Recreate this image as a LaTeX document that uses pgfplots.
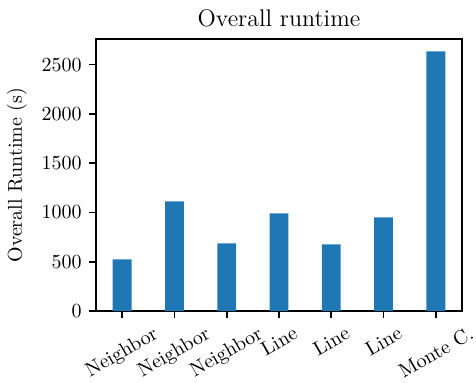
\documentclass[border=0pt]{standalone}
\usepackage{graphicx}
\usepackage{pgfplots}
\pgfplotsset{compat=1.18}
\definecolor{tabblue}{HTML}{1F77B4}
\begin{document}
\begin{tikzpicture}
\begin{axis}[
  scale only axis,
  width=183pt, height=136pt,
  xmin=-0.5, xmax=6.5,
  ymin=0, ymax=2760,
  axis line style={line width=0.8pt},
  tick style={line width=0.8pt, black},
  tick align=outside,
  major tick length=3.5pt,
  xtick={0,1,2,3,4,5,6},
  xticklabels={\rotatebox{30}{Neighbor},\rotatebox{30}{Neighbor},\rotatebox{30}{Neighbor},\rotatebox{30}{Line},\rotatebox{30}{Line},\rotatebox{30}{Line},\rotatebox{30}{Monte C.}},
  xticklabel style={anchor=north, inner sep=0pt, yshift=-3.5pt},
  ytick={0,500,1000,1500,2000,2500},
  yticklabel style={anchor=east, inner sep=0pt, xshift=-3.5pt},
  /pgf/number format/1000 sep={},
  xtick pos=bottom, ytick pos=left,
  ylabel={Overall Runtime (s)},
  ylabel style={at={(axis description cs:-0.216,0.5)}, anchor=center, inner sep=0pt},
  title={Overall runtime},
  title style={at={(axis description cs:0.5,1)}, anchor=base, inner sep=0pt, yshift=0.5pt, font=\fontsize{12}{14}\selectfont},
  clip=false,
]
\addplot[ybar, bar width=0.36, fill=tabblue, draw=none] coordinates {
  (0,524) (1,1113) (2,687) (3,991) (4,676) (5,950) (6,2634)
};
\end{axis}
\path (current axis.south west) ++(-48pt,-35.5pt) coordinate (bbA);
\path (current axis.north east) ++(7pt,19.5pt) coordinate (bbB);
\path (bbA) rectangle (bbB);
\end{tikzpicture}
\end{document}
